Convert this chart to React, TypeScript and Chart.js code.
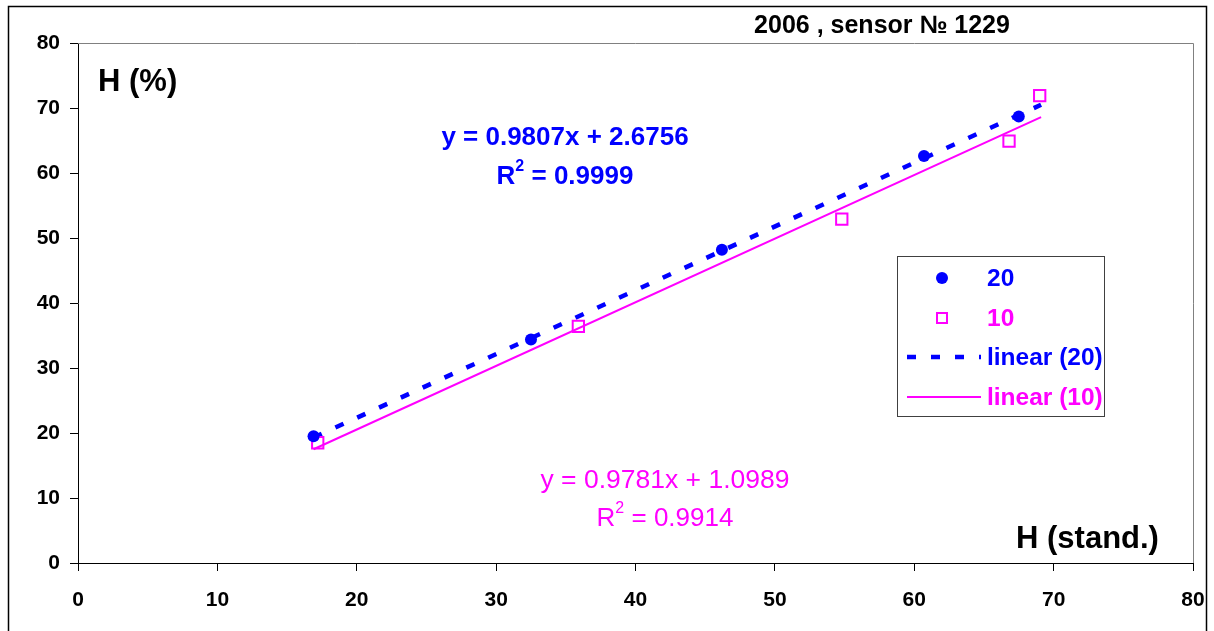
import React, { useEffect, useRef } from "react";
import { Chart, registerables } from "chart.js";

Chart.register(...registerables);

// ---- data ----
const xTickValues = [0, 10, 20, 30, 40, 50, 60, 70, 80];
const yTickValues = [0, 10, 20, 30, 40, 50, 60, 70, 80];

const series20X = [16.9, 32.5, 46.2, 60.7, 67.5];
const series20Y = [19.5, 34.4, 48.2, 62.6, 68.7];

const series10X = [17.2, 35.9, 54.8, 66.8, 69.0];
const series10Y = [18.5, 36.4, 52.9, 64.9, 71.9];

const trend20X = [16.9, 69.1];
const trend20Y = [19.3, 70.5];

const trend10X = [16.9, 69.1];
const trend10Y = [17.5, 68.6];

const legendLabels = ["20", "10", "linear (20)", "linear (10)"];
const titleText = "2006 , sensor № 1229";
const yAxisText = "H (%)";
const xAxisText = "H (stand.)";
const eq20Text = "y = 0.9807x + 2.6756";
const r20Text = "0.9999";
const eq10Text = "y = 0.9781x + 1.0989";
const r10Text = "0.9914";

const BLUE = "#0000FF";
const MAGENTA = "#FF00FF";
const FONT = "'Liberation Sans', Arial, sans-serif";

const toPts = (xs: number[], ys: number[]) => xs.map((x, i) => ({ x, y: ys[i] }));

function drawR2(ctx: CanvasRenderingContext2D, cx: number, cy: number, value: string, bold: boolean, color: string) {
  const w = bold ? "bold " : "";
  const big = `${w}26px ${FONT}`;
  const small = `${w}16px ${FONT}`;
  ctx.font = big;
  const wR = ctx.measureText("R").width;
  const rest = " = " + value;
  const wRest = ctx.measureText(rest).width;
  ctx.font = small;
  const w2 = ctx.measureText("2").width;
  const total = wR + w2 + wRest;
  let x = cx - total / 2;
  ctx.fillStyle = color;
  ctx.textAlign = "left";
  ctx.textBaseline = "middle";
  ctx.font = big;
  ctx.fillText("R", x, cy);
  x += wR;
  ctx.font = small;
  ctx.fillText("2", x, cy - 10);
  x += w2;
  ctx.font = big;
  ctx.fillText(rest, x, cy);
}

const decorPlugin = {
  id: "decor",
  afterDraw(chart: any) {
    const ctx: CanvasRenderingContext2D = chart.ctx;
    const area = chart.chartArea;
    ctx.save();

    // outer frame
    ctx.strokeStyle = "#000";
    ctx.lineWidth = 1.5;
    ctx.strokeRect(8.5, 6.5, 1198, 700);

    // plot box (top + right)
    ctx.strokeStyle = "#808080";
    ctx.lineWidth = 1;
    ctx.beginPath();
    ctx.moveTo(area.left, Math.round(area.top) + 0.5);
    ctx.lineTo(Math.round(area.right) + 0.5, Math.round(area.top) + 0.5);
    ctx.lineTo(Math.round(area.right) + 0.5, area.bottom);
    ctx.stroke();

    // title
    ctx.fillStyle = "#000";
    ctx.textBaseline = "middle";
    ctx.textAlign = "center";
    ctx.font = `bold 25px ${FONT}`;
    ctx.fillText(titleText, 882, 26);

    // axis labels inside plot
    ctx.textAlign = "left";
    ctx.font = `bold 31px ${FONT}`;
    ctx.fillText(yAxisText, 98, 82);
    ctx.fillText(xAxisText, 1016, 539);

    // equations
    ctx.textAlign = "center";
    ctx.fillStyle = BLUE;
    ctx.font = `bold 26px ${FONT}`;
    ctx.fillText(eq20Text, 565, 138);
    drawR2(ctx, 565, 177, r20Text, true, BLUE);

    ctx.textAlign = "center";
    ctx.fillStyle = MAGENTA;
    ctx.font = `26.5px ${FONT}`;
    ctx.fillText(eq10Text, 665, 481);
    drawR2(ctx, 665, 519, r10Text, false, MAGENTA);

    // legend
    const lx = 897, ly = 256, lw = 207, lh = 160;
    ctx.fillStyle = "#fff";
    ctx.fillRect(lx, ly, lw, lh);
    ctx.strokeStyle = "#404040";
    ctx.lineWidth = 1;
    ctx.strokeRect(lx + 0.5, ly + 0.5, lw, lh);

    const rows = [278, 318, 357, 397];
    const colors = [BLUE, MAGENTA, BLUE, MAGENTA];
    // marker 20
    ctx.fillStyle = BLUE;
    ctx.beginPath();
    ctx.arc(942, rows[0], 6, 0, Math.PI * 2);
    ctx.fill();
    // marker 10
    ctx.strokeStyle = MAGENTA;
    ctx.lineWidth = 2;
    ctx.fillStyle = "#fff";
    ctx.fillRect(937, rows[1] - 5, 10, 10);
    ctx.strokeRect(937, rows[1] - 5, 10, 10);
    // dashed sample
    ctx.strokeStyle = BLUE;
    ctx.lineWidth = 4.5;
    ctx.setLineDash([9, 15]);
    ctx.beginPath();
    ctx.moveTo(907, rows[2]);
    ctx.lineTo(981, rows[2]);
    ctx.stroke();
    ctx.setLineDash([]);
    // solid sample
    ctx.strokeStyle = MAGENTA;
    ctx.lineWidth = 2;
    ctx.beginPath();
    ctx.moveTo(907, rows[3]);
    ctx.lineTo(981, rows[3]);
    ctx.stroke();

    ctx.font = `bold 24.5px ${FONT}`;
    ctx.textAlign = "left";
    legendLabels.forEach((t, i) => {
      ctx.fillStyle = colors[i];
      ctx.fillText(t, 987, rows[i] + 1);
    });

    ctx.restore();
  },
};

export default function App() {
  const ref = useRef<HTMLCanvasElement>(null);

  useEffect(() => {
    if (!ref.current) return;
    const tickFont = { family: FONT, size: 21, weight: "bold" as const };
    const chart = new Chart(ref.current, {
      type: "scatter",
      data: {
        datasets: [
          {
            label: legendLabels[0],
            data: toPts(series20X, series20Y),
            pointStyle: "circle",
            pointRadius: 6,
            backgroundColor: BLUE,
            borderColor: BLUE,
            borderWidth: 0,
            showLine: false,
            order: 0,
          },
          {
            label: legendLabels[1],
            data: toPts(series10X, series10Y),
            pointStyle: "rect",
            pointRadius: 8,
            backgroundColor: "rgba(255,255,255,0)",
            borderColor: MAGENTA,
            borderWidth: 2,
            showLine: false,
            order: 0,
          },
          {
            label: legendLabels[2],
            data: toPts(trend20X, trend20Y),
            showLine: true,
            pointRadius: 0,
            borderColor: BLUE,
            borderWidth: 4.5,
            borderDash: [9, 15],
            order: 1,
          },
          {
            label: legendLabels[3],
            data: toPts(trend10X, trend10Y),
            showLine: true,
            pointRadius: 0,
            borderColor: MAGENTA,
            borderWidth: 2,
            order: 2,
          },
        ],
      },
      options: {
        animation: false,
        responsive: false,
        devicePixelRatio: 1,
        layout: { padding: { left: 0, top: 43, right: 21, bottom: 0 } },
        plugins: { legend: { display: false }, tooltip: { enabled: false }, title: { display: false } },
        scales: {
          x: {
            type: "linear",
            min: 0,
            max: 80,
            afterBuildTicks: (s: any) => {
              s.ticks = xTickValues.map((v) => ({ value: v }));
            },
            afterFit: (s: any) => {
              s.height = 68;
              s.paddingLeft = 0;
              s.paddingRight = 0;
            },
            ticks: { font: tickFont, color: "#000", padding: 17, maxRotation: 0 },
            grid: { drawOnChartArea: false, drawTicks: true, tickLength: 8, color: "#000" },
            border: { display: true, color: "#000", width: 1 },
          },
          y: {
            type: "linear",
            min: 0,
            max: 80,
            afterBuildTicks: (s: any) => {
              s.ticks = yTickValues.map((v) => ({ value: v }));
            },
            afterFit: (s: any) => {
              s.width = 78;
              s.paddingTop = 0;
              s.paddingBottom = 0;
            },
            ticks: { font: tickFont, color: "#000", padding: 10 },
            grid: { drawOnChartArea: false, drawTicks: true, tickLength: 8, color: "#000" },
            border: { display: true, color: "#000", width: 1 },
          },
        },
      },
      plugins: [decorPlugin],
    });
    return () => chart.destroy();
  }, []);

  return (
    <div style={{ position: "absolute", left: 0, top: 0, width: 1214, height: 631, background: "#fff" }}>
      <canvas ref={ref} width={1214} height={631} style={{ display: "block", width: 1214, height: 631 }} />
    </div>
  );
}
